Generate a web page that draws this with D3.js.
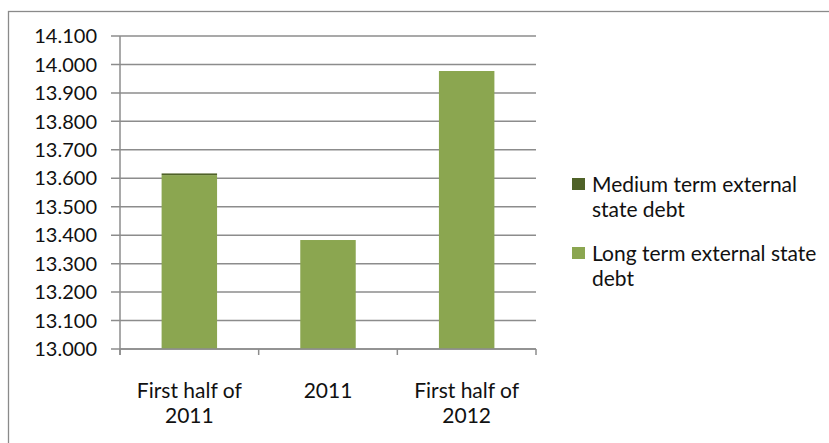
<!DOCTYPE html>
<html>
<head>
<meta charset="utf-8">
<script src="https://cdn.jsdelivr.net/npm/d3@7"></script>
<style>
  html, body { margin: 0; padding: 0; background: #fff; }
  svg { display: block; font-family: Lato, "Open Sans", sans-serif; }
</style>
</head>
<body>
<svg id="chart" width="829" height="443"></svg>
<script>
// Category labels (two lines each)
const categories = ["First half of 2011", "2011", "First half of 2012"];
const categoryLines = [["First half of", "2011"], ["2011"], ["First half of", "2012"]];

// State debt by maturity
const longTermDebt = [13611, 13383, 13977];
const mediumTermDebt = [6, 0, 0];

// Axis ticks
const yTicks = [13000, 13100, 13200, 13300, 13400, 13500, 13600, 13700, 13800, 13900, 14000, 14100];

const seriesNames = ["Medium term external state debt", "Long term external state debt"];
const seriesLegendLines = [["Medium term external", "state debt"], ["Long term external state", "debt"]];
const colors = { long: "#8ba650", medium: "#4f6228" };

const locale = d3.formatLocale({ decimal: ",", thousands: ".", grouping: [3], currency: ["", ""] });
const fmt = locale.format(",.0f");

const svg = d3.select("#chart");

// Outer chart-area border
svg.append("rect")
  .attr("x", 8.5).attr("y", 11.5)
  .attr("width", 900).attr("height", 500)
  .attr("fill", "none").attr("stroke", "#8a8a8a").attr("stroke-width", 1.3);

const plot = { left: 120, right: 536, top: 36, bottom: 349 };

const x = d3.scaleBand()
  .domain(categories)
  .range([plot.left, plot.right])
  .paddingInner(0.6)
  .paddingOuter(0.3);

const y = d3.scaleLinear()
  .domain([13000, 14100])
  .range([plot.bottom, plot.top]);

// Horizontal gridlines with left tick marks
svg.append("g")
  .selectAll("line")
  .data(yTicks)
  .join("line")
  .attr("x1", plot.left - 9).attr("x2", plot.right)
  .attr("y1", d => y(d)).attr("y2", d => y(d))
  .attr("stroke", "#8c8c8c").attr("stroke-width", 1.5);

// Y tick labels
svg.append("g")
  .selectAll("text")
  .data(yTicks)
  .join("text")
  .attr("x", 97)
  .attr("y", d => y(d))
  .attr("dy", "0.36em")
  .attr("text-anchor", "end")
  .attr("font-size", 20)
  .attr("fill", "#111")
  .text(d => fmt(d));

// Stacked bars: long term at the base, medium term on top
const rows = categories.map((c, i) => ({ cat: c, long: longTermDebt[i], medium: mediumTermDebt[i] }));
const stacked = d3.stack().keys(["long", "medium"])(rows);

svg.append("g")
  .selectAll("g")
  .data(stacked)
  .join("g")
  .attr("fill", d => colors[d.key])
  .selectAll("rect")
  .data(d => d)
  .join("rect")
  .attr("x", d => x(d.data.cat))
  .attr("width", x.bandwidth())
  .attr("y", d => y(d[1]))
  .attr("height", d => {
    const lo = Math.max(d[0], y.domain()[0]);
    return Math.max(0, y(lo) - y(d[1]));
  });

// Y axis line
svg.append("line")
  .attr("x1", plot.left).attr("x2", plot.left)
  .attr("y1", plot.top).attr("y2", plot.bottom + 6)
  .attr("stroke", "#8c8c8c").attr("stroke-width", 1.5);

// X axis line and category boundary ticks
svg.append("line")
  .attr("x1", plot.left).attr("x2", plot.right)
  .attr("y1", plot.bottom).attr("y2", plot.bottom)
  .attr("stroke", "#8c8c8c").attr("stroke-width", 1.5);

const boundaries = d3.range(categories.length + 1).map(i => plot.left + i * (plot.right - plot.left) / categories.length);
svg.append("g")
  .selectAll("line")
  .data(boundaries)
  .join("line")
  .attr("x1", d => d).attr("x2", d => d)
  .attr("y1", plot.bottom).attr("y2", plot.bottom + 6)
  .attr("stroke", "#8c8c8c").attr("stroke-width", 1.5);

// Category labels
svg.append("g")
  .selectAll("text")
  .data(categories)
  .join("text")
  .attr("text-anchor", "middle")
  .attr("font-size", 21)
  .attr("fill", "#111")
  .each(function (c, i) {
    const cx = x(c) + x.bandwidth() / 2;
    const t = d3.select(this);
    categoryLines[i].forEach((ln, j) => {
      t.append("tspan").attr("x", cx).attr("y", 398 + j * 25).text(ln);
    });
  });

// Legend
const legendColors = [colors.medium, colors.long];
const legendTops = [178, 247];
const legend = svg.append("g")
  .selectAll("g")
  .data(seriesNames)
  .join("g");
legend.append("rect")
  .attr("x", 572).attr("y", (d, i) => legendTops[i])
  .attr("width", 13).attr("height", 12)
  .attr("fill", (d, i) => legendColors[i]);
legend.append("text")
  .attr("font-size", 21)
  .attr("fill", "#111")
  .each(function (d, i) {
    const t = d3.select(this);
    seriesLegendLines[i].forEach((ln, j) => {
      t.append("tspan").attr("x", 592).attr("y", legendTops[i] + 14 + j * 25).text(ln);
    });
  });
</script>
</body>
</html>
